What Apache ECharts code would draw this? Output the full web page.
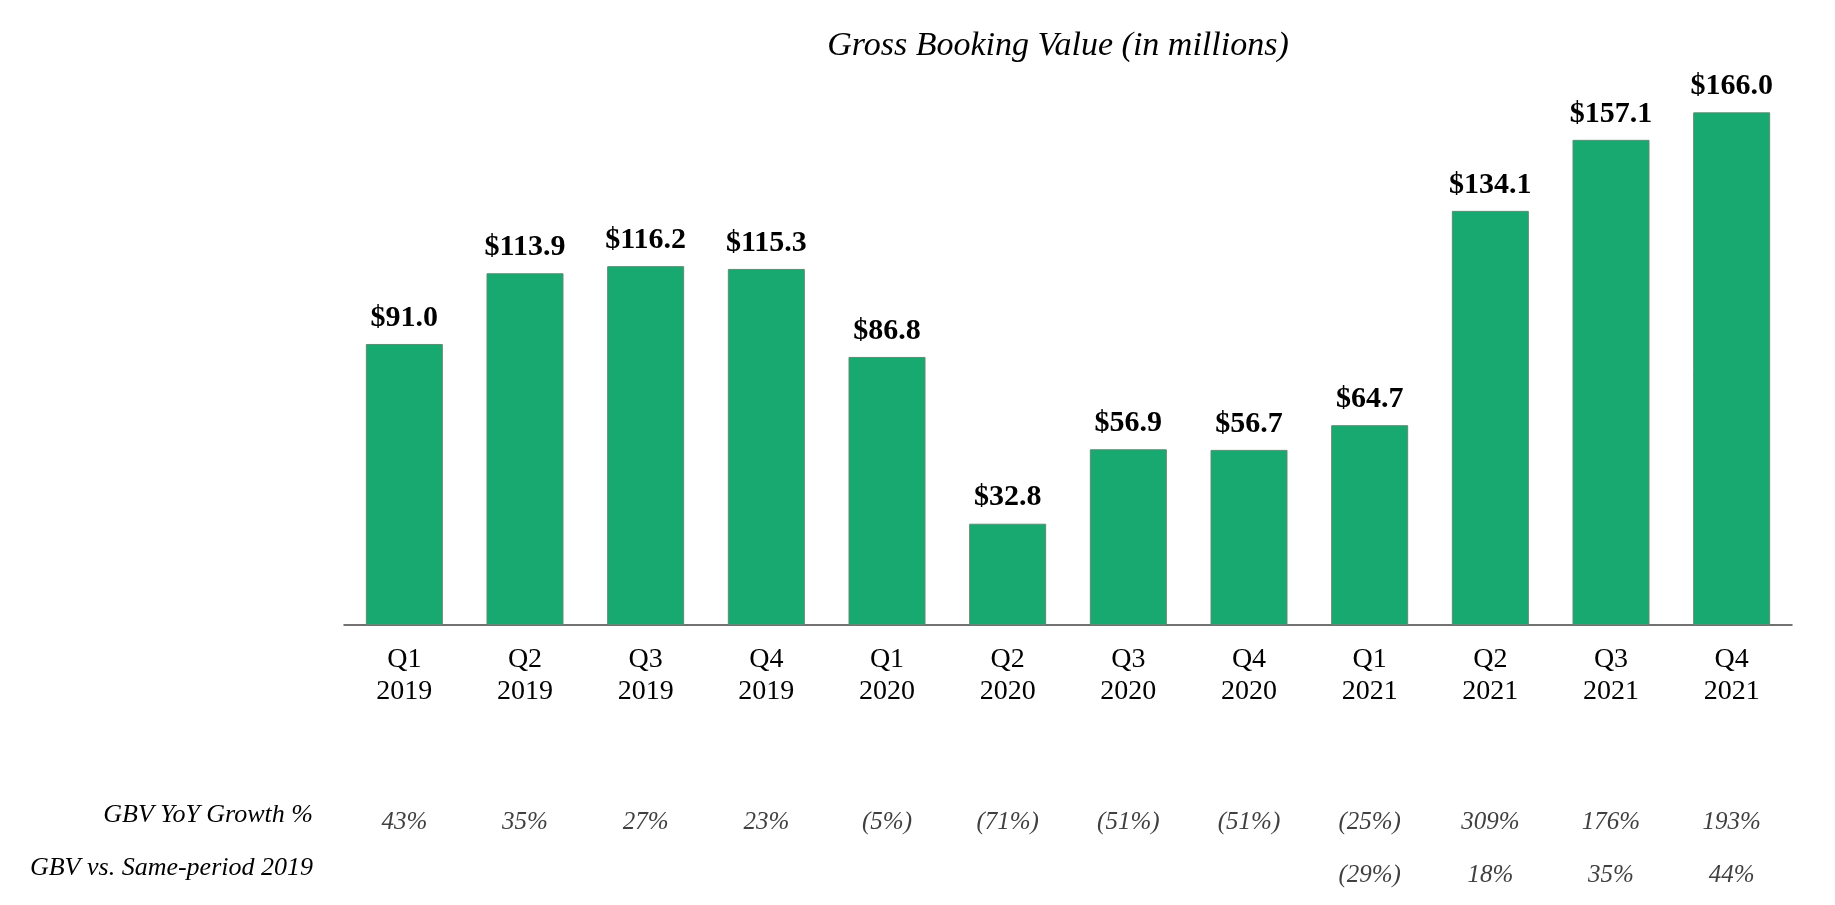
<!DOCTYPE html>
<html>
<head>
<meta charset="utf-8">
<script src="https://cdn.jsdelivr.net/npm/echarts@6/dist/echarts.min.js"></script>
<style>
html,body{margin:0;padding:0;background:#fff;}
#chart{width:1835px;height:905px;}
</style>
</head>
<body>
<div id="chart"></div>
<script>
var categories = ['Q1\n2019','Q2\n2019','Q3\n2019','Q4\n2019','Q1\n2020','Q2\n2020','Q3\n2020','Q4\n2020','Q1\n2021','Q2\n2021','Q3\n2021','Q4\n2021'];
var gbv = [91.0, 113.9, 116.2, 115.3, 86.8, 32.8, 56.9, 56.7, 64.7, 134.1, 157.1, 166.0];
var yoyGrowth = ['43%','35%','27%','23%','(5%)','(71%)','(51%)','(51%)','(25%)','309%','176%','193%'];
var vs2019 = ['','','','','','','','','(29%)','18%','35%','44%'];
var rowTitles = ['GBV YoY Growth %','GBV vs. Same-period 2019'];
var chartTitle = 'Gross Booking Value (in millions)';

var FONT = '"Liberation Serif","Times New Roman",Times,serif';
var chart = echarts.init(document.getElementById('chart'));

function rowAxis(data, offset) {
  return {
    type: 'category',
    data: data,
    position: 'bottom',
    offset: offset,
    axisLine: {show: false},
    axisTick: {show: false},
    splitLine: {show: false},
    axisLabel: {
      interval: 0, margin: 0,
      fontFamily: FONT, fontStyle: 'italic', fontSize: 25, color: '#404040'
    }
  };
}

chart.setOption({
  animation: false,
  backgroundColor: '#ffffff',
  grid: {left: 344, right: 43, top: 100, bottom: 280},
  graphic: [
    {type: 'text', x: 1058, y: 46, style: {text: chartTitle, font: 'italic 34px ' + FONT, fill: '#000', textAlign: 'center', textVerticalAlign: 'middle'}},
    {type: 'text', x: 313, y: 815, style: {text: rowTitles[0], font: 'italic 26px ' + FONT, fill: '#000', textAlign: 'right', textVerticalAlign: 'middle'}},
    {type: 'text', x: 313, y: 868, style: {text: rowTitles[1], font: 'italic 26px ' + FONT, fill: '#000', textAlign: 'right', textVerticalAlign: 'middle'}}
  ],
  xAxis: [
    {
      type: 'category',
      data: categories,
      axisLine: {show: true, lineStyle: {color: '#444', width: 1.5}},
      axisTick: {show: false},
      axisLabel: {interval: 0, margin: 19, fontFamily: FONT, fontSize: 28, lineHeight: 32, color: '#000'}
    },
    rowAxis(yoyGrowth, 185),
    rowAxis(vs2019, 238)
  ],
  yAxis: {
    type: 'value', min: 0, max: 170,
    show: false,
    splitLine: {show: false}
  },
  series: [{
    type: 'bar',
    data: gbv,
    barWidth: 77,
    itemStyle: {color: '#17A96F', borderColor: '#5e8c74', borderWidth: 1},
    label: {
      show: true, position: 'top', distance: 11,
      fontFamily: FONT, fontWeight: 'bold', fontSize: 30, color: '#000',
      formatter: function (p) { return '$' + p.value.toFixed(1); }
    }
  }]
});
</script>
</body>
</html>
